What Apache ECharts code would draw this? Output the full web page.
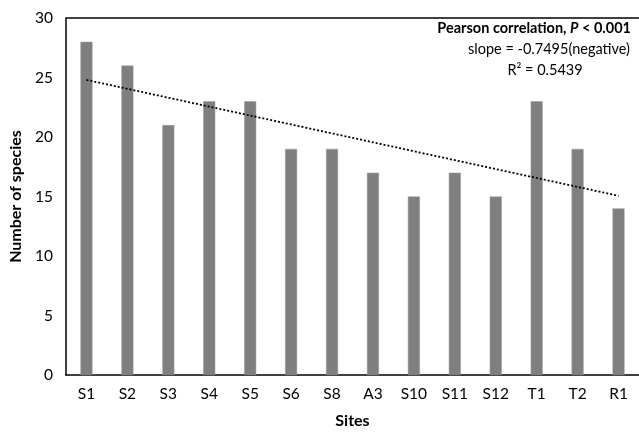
<!DOCTYPE html>
<html>
<head>
<meta charset="utf-8">
<script src="https://cdn.jsdelivr.net/npm/echarts@6/dist/echarts.min.js"></script>
<style>
  html, body { margin: 0; padding: 0; background: #fff; }
  #chart { width: 639px; height: 434px; }
</style>
</head>
<body>
<div id="chart"></div>
<script>
// Species richness per site
const sites = ['S1', 'S2', 'S3', 'S4', 'S5', 'S6', 'S8', 'A3', 'S10', 'S11', 'S12', 'T1', 'T2', 'R1'];
const speciesCounts = [28, 26, 21, 23, 23, 19, 19, 17, 15, 17, 15, 23, 19, 14];
const yTicks = [0, 5, 10, 15, 20, 25, 30];

// Least-squares linear trend over site order (1..n)
function linearFit(ys) {
  const n = ys.length;
  const xs = ys.map((_, i) => i + 1);
  const mx = xs.reduce((a, b) => a + b, 0) / n;
  const my = ys.reduce((a, b) => a + b, 0) / n;
  let sxy = 0, sxx = 0;
  for (let i = 0; i < n; i++) {
    sxy += (xs[i] - mx) * (ys[i] - my);
    sxx += (xs[i] - mx) * (xs[i] - mx);
  }
  const slope = sxy / sxx;
  const intercept = my - slope * mx;
  return xs.map(x => +(intercept + slope * x).toFixed(3));
}
const trend = linearFit(speciesCounts);

const font = 'Lato, "Open Sans", sans-serif';
const chart = echarts.init(document.getElementById('chart'));

chart.setOption({
  animation: false,
  backgroundColor: '#ffffff',
  grid: { left: 66, top: 18, width: 574, height: 360, containLabel: false },
  xAxis: {
    type: 'category',
    data: sites,
    name: 'Sites',
    nameLocation: 'middle',
    nameGap: 38,
    nameTextStyle: { fontFamily: font, fontSize: 16, fontWeight: 'bold', color: '#000' },
    axisLine: { lineStyle: { color: '#000', width: 1.5 } },
    axisTick: { show: false },
    axisLabel: { fontFamily: font, fontSize: 15.5, color: '#000', margin: 11 }
  },
  yAxis: {
    type: 'value',
    min: 0,
    max: 30,
    interval: 5,
    name: 'Number of species',
    nameLocation: 'middle',
    nameGap: 42,
    nameTextStyle: { fontFamily: font, fontSize: 16, fontWeight: 'bold', color: '#000' },
    axisLine: { show: true, lineStyle: { color: '#000', width: 1.5 } },
    axisTick: { show: false },
    splitLine: { show: false },
    axisLabel: {
      fontFamily: font, fontSize: 15.5, color: '#000', margin: 13,
      formatter: v => (yTicks.includes(v) ? String(v) : '')
    }
  },
  graphic: [
    {
      // top frame line
      type: 'line',
      shape: { x1: 66, y1: 18, x2: 639, y2: 18 },
      style: { stroke: '#000', lineWidth: 1.5 }
    },
    {
      type: 'text',
      right: 8,
      top: 21,
      style: {
        text: '{b|Pearson correlation, }{bi|P}{b| < 0.001}',
        rich: {
          b: { fontFamily: font, fontSize: 14.5, fontWeight: 'bold', fill: '#000' },
          bi: { fontFamily: font, fontSize: 14.5, fontWeight: 'bold', fontStyle: 'italic', fill: '#000' }
        }
      }
    },
    {
      type: 'text',
      x: 549,
      y: 42,
      style: { text: 'slope = -0.7495(negative)', fontFamily: font, fontSize: 14.5, fill: '#000', textAlign: 'center' }
    },
    {
      type: 'text',
      x: 545,
      y: 63,
      style: { text: 'R² = 0.5439', fontFamily: font, fontSize: 14.5, fill: '#000', textAlign: 'center' }
    }
  ],
  series: [
    {
      type: 'bar',
      data: speciesCounts,
      barWidth: 12,
      itemStyle: { color: '#7f7f7f', borderColor: '#9a9a9a', borderWidth: 0.5 }
    },
    {
      type: 'line',
      data: trend,
      symbol: 'none',
      lineStyle: { color: '#000', width: 1.8, type: [2, 2] },
      z: 5
    }
  ]
});
</script>
</body>
</html>
